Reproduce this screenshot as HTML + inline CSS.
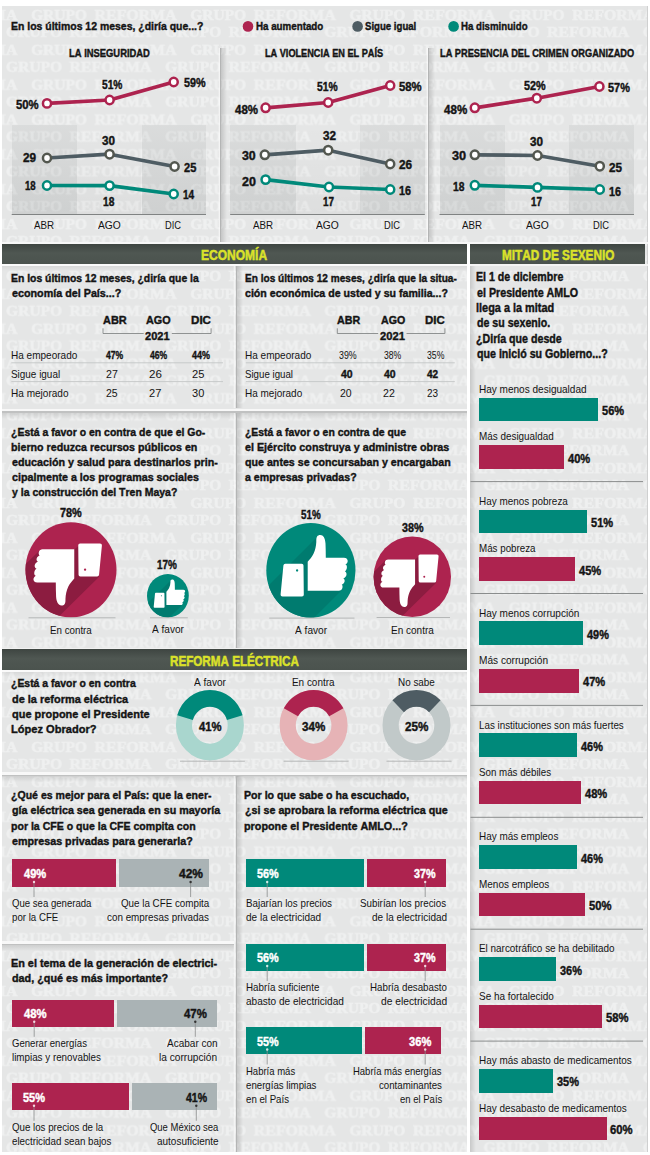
<!DOCTYPE html>
<html lang="es"><head><meta charset="utf-8"><title>Encuesta</title>
<style>
html,body{margin:0;padding:0;background:#fff;}
body{width:650px;height:1155px;position:relative;overflow:hidden;font-family:"Liberation Sans",sans-serif;}
.b{position:absolute;display:block;}
.t{position:absolute;display:block;white-space:nowrap;line-height:1;transform-origin:0 0;font-kerning:none;letter-spacing:0;}
.k{font-weight:700;-webkit-text-stroke:0.4px currentColor;}
</style></head><body>
<div class="b" style="left:1.50px;top:6.00px;width:646.50px;height:1146.00px;background:#e5e6e6;"></div>
<svg class="b" style="left:0;top:0" width="650" height="1155" viewBox="0 0 650 1155"><defs><filter id="bl" x="-5%" y="-20%" width="110%" height="140%"><feGaussianBlur stdDeviation="0.45"/></filter><pattern id="wm" x="0" y="6" width="159.2" height="34.86" patternUnits="userSpaceOnUse"><g fill="#eff0f0" stroke="#eff0f0" stroke-width="0.45" font-family="Liberation Serif, serif" font-weight="700" font-size="14px" filter="url(#bl)"><text x="31.0" y="13.50" textLength="56" lengthAdjust="spacingAndGlyphs">GRUPO</text><text x="94.5" y="13.50" textLength="82" lengthAdjust="spacingAndGlyphs">REFORMA</text><text x="-128.2" y="13.50" textLength="56" lengthAdjust="spacingAndGlyphs">GRUPO</text><text x="-64.7" y="13.50" textLength="82" lengthAdjust="spacingAndGlyphs">REFORMA</text><text x="6.0" y="30.93" textLength="56" lengthAdjust="spacingAndGlyphs">GRUPO</text><text x="69.5" y="30.93" textLength="82" lengthAdjust="spacingAndGlyphs">REFORMA</text><text x="165.2" y="30.93" textLength="56" lengthAdjust="spacingAndGlyphs">GRUPO</text><text x="228.7" y="30.93" textLength="82" lengthAdjust="spacingAndGlyphs">REFORMA</text><text x="-153.2" y="30.93" textLength="56" lengthAdjust="spacingAndGlyphs">GRUPO</text><text x="-89.7" y="30.93" textLength="82" lengthAdjust="spacingAndGlyphs">REFORMA</text></g></pattern></defs><rect x="0" y="6" width="650" height="1146" fill="url(#wm)"/></svg>
<div class="b" style="left:11.70px;top:125.00px;width:65.10px;height:89.60px;background:linear-gradient(rgba(20,30,30,.05),rgba(20,30,30,.11));"></div>
<div class="b" style="left:76.80px;top:125.00px;width:64.70px;height:89.60px;background:linear-gradient(rgba(0,0,0,0),rgba(0,0,0,.035));"></div>
<div class="b" style="left:141.50px;top:125.00px;width:64.50px;height:89.60px;background:linear-gradient(rgba(20,30,30,.05),rgba(20,30,30,.11));"></div>
<div class="b" style="left:230.20px;top:125.00px;width:65.50px;height:89.60px;background:linear-gradient(rgba(20,30,30,.05),rgba(20,30,30,.11));"></div>
<div class="b" style="left:295.70px;top:125.00px;width:64.30px;height:89.60px;background:linear-gradient(rgba(0,0,0,0),rgba(0,0,0,.035));"></div>
<div class="b" style="left:360.00px;top:125.00px;width:64.80px;height:89.60px;background:linear-gradient(rgba(20,30,30,.05),rgba(20,30,30,.11));"></div>
<div class="b" style="left:439.50px;top:125.00px;width:65.50px;height:89.60px;background:linear-gradient(rgba(20,30,30,.05),rgba(20,30,30,.11));"></div>
<div class="b" style="left:505.00px;top:125.00px;width:64.30px;height:89.60px;background:linear-gradient(rgba(0,0,0,0),rgba(0,0,0,.035));"></div>
<div class="b" style="left:569.30px;top:125.00px;width:64.70px;height:89.60px;background:linear-gradient(rgba(20,30,30,.05),rgba(20,30,30,.11));"></div>
<div class="b" style="left:0.00px;top:0.00px;width:650.00px;height:6.00px;background:#fff;"></div>
<div class="b" style="left:0.00px;top:1152.00px;width:650.00px;height:3.00px;background:#fff;"></div>
<div class="b" style="left:0.00px;top:0.00px;width:1.50px;height:1155.00px;background:#fff;"></div>
<div class="b" style="left:648.00px;top:0.00px;width:2.00px;height:1155.00px;background:#fff;"></div>
<div class="b" style="left:647.00px;top:6.00px;width:1.00px;height:1146.00px;background:#cfd0d0;"></div>
<div class="b" style="left:466.70px;top:242.00px;width:3.40px;height:910.00px;background:#fff;"></div>
<div class="b" style="left:470.10px;top:266.00px;width:6.00px;height:886.00px;background:linear-gradient(90deg,rgba(0,0,0,.13),rgba(0,0,0,0));"></div>
<div class="b" style="left:217.80px;top:48.00px;width:2.20px;height:194.00px;background:linear-gradient(90deg,rgba(255,255,255,0),rgba(255,255,255,.75));"></div>
<div class="b" style="left:220.00px;top:48.00px;width:1.20px;height:194.00px;background:#b4b5b5;"></div>
<div class="b" style="left:221.20px;top:48.00px;width:6.00px;height:194.00px;background:linear-gradient(90deg,rgba(0,0,0,.14),rgba(0,0,0,0));"></div>
<div class="b" style="left:425.80px;top:48.00px;width:2.20px;height:194.00px;background:linear-gradient(90deg,rgba(255,255,255,0),rgba(255,255,255,.75));"></div>
<div class="b" style="left:428.00px;top:48.00px;width:1.20px;height:194.00px;background:#b4b5b5;"></div>
<div class="b" style="left:429.20px;top:48.00px;width:6.00px;height:194.00px;background:linear-gradient(90deg,rgba(0,0,0,.14),rgba(0,0,0,0));"></div>
<div class="b" style="left:1.50px;top:242.00px;width:646.50px;height:2.00px;background:#f7f7f7;"></div>
<div class="b" style="left:1.50px;top:244.00px;width:465.20px;height:19.80px;background:linear-gradient(#3e4541,#4f5752 45%,#4b534e);"></div>
<div class="b" style="left:470.10px;top:244.00px;width:174.90px;height:19.80px;background:linear-gradient(#3e4541,#4f5752 45%,#4b534e);"></div>
<div class="b" style="left:1.50px;top:263.80px;width:465.20px;height:2.40px;background:#fafafa;"></div>
<div class="b" style="left:470.10px;top:263.80px;width:177.90px;height:2.40px;background:#f4f4f4;"></div>
<div class="b" style="left:1.50px;top:266.20px;width:465.20px;height:5.00px;background:linear-gradient(rgba(0,0,0,.06),rgba(0,0,0,0));"></div>
<div class="b" style="left:233.30px;top:266.20px;width:2.20px;height:142.30px;background:linear-gradient(90deg,rgba(255,255,255,0),rgba(255,255,255,.75));"></div>
<div class="b" style="left:235.50px;top:266.20px;width:1.20px;height:142.30px;background:#b4b5b5;"></div>
<div class="b" style="left:236.70px;top:266.20px;width:6.00px;height:142.30px;background:linear-gradient(90deg,rgba(0,0,0,.14),rgba(0,0,0,0));"></div>
<div class="b" style="left:1.50px;top:408.50px;width:465.20px;height:2.90px;background:#f8f8f8;"></div>
<div class="b" style="left:1.50px;top:411.40px;width:465.20px;height:1.20px;background:#c0c1c1;"></div>
<div class="b" style="left:1.50px;top:412.60px;width:465.20px;height:6.00px;background:linear-gradient(rgba(0,0,0,.10),rgba(0,0,0,0));"></div>
<div class="b" style="left:233.30px;top:412.50px;width:2.20px;height:235.50px;background:linear-gradient(90deg,rgba(255,255,255,0),rgba(255,255,255,.75));"></div>
<div class="b" style="left:235.50px;top:412.50px;width:1.20px;height:235.50px;background:#b4b5b5;"></div>
<div class="b" style="left:236.70px;top:412.50px;width:6.00px;height:235.50px;background:linear-gradient(90deg,rgba(0,0,0,.14),rgba(0,0,0,0));"></div>
<div class="b" style="left:1.50px;top:647.80px;width:465.20px;height:1.60px;background:#f1f1f1;"></div>
<div class="b" style="left:1.50px;top:649.40px;width:465.20px;height:20.20px;background:linear-gradient(#3e4541,#4f5752 45%,#4b534e);"></div>
<div class="b" style="left:1.50px;top:669.60px;width:465.20px;height:2.60px;background:#fafafa;"></div>
<div class="b" style="left:1.50px;top:672.20px;width:465.20px;height:5.00px;background:linear-gradient(rgba(0,0,0,.06),rgba(0,0,0,0));"></div>
<div class="b" style="left:1.50px;top:772.00px;width:465.20px;height:2.90px;background:#f8f8f8;"></div>
<div class="b" style="left:1.50px;top:774.90px;width:465.20px;height:1.20px;background:#c0c1c1;"></div>
<div class="b" style="left:1.50px;top:776.10px;width:465.20px;height:6.00px;background:linear-gradient(rgba(0,0,0,.10),rgba(0,0,0,0));"></div>
<div class="b" style="left:233.30px;top:776.00px;width:2.20px;height:376.00px;background:linear-gradient(90deg,rgba(255,255,255,0),rgba(255,255,255,.75));"></div>
<div class="b" style="left:235.50px;top:776.00px;width:1.20px;height:376.00px;background:#b4b5b5;"></div>
<div class="b" style="left:236.70px;top:776.00px;width:6.00px;height:376.00px;background:linear-gradient(90deg,rgba(0,0,0,.14),rgba(0,0,0,0));"></div>
<div class="b" style="left:1.50px;top:940.70px;width:232.00px;height:2.90px;background:#f8f8f8;"></div>
<div class="b" style="left:1.50px;top:943.60px;width:232.00px;height:1.20px;background:#c0c1c1;"></div>
<div class="b" style="left:1.50px;top:944.80px;width:232.00px;height:6.00px;background:linear-gradient(rgba(0,0,0,.10),rgba(0,0,0,0));"></div>
<span class="t k" style="left:201.16px;top:249px;font-size:13.80px;color:#dbe22a;transform:scaleX(0.8706);-webkit-text-stroke:0.5px currentColor;">ECONOMÍA</span>
<span class="t k" style="left:501.98px;top:249px;font-size:13.80px;color:#dbe22a;transform:scaleX(0.8522);-webkit-text-stroke:0.5px currentColor;">MITAD DE SEXENIO</span>
<span class="t k" style="left:169.78px;top:655px;font-size:13.80px;color:#dbe22a;transform:scaleX(0.8446);-webkit-text-stroke:0.5px currentColor;">REFORMA ELÉCTRICA</span>
<span class="t k" style="left:11.27px;top:21px;font-size:11.80px;color:#141414;transform-origin:0 9px;transform:scale(0.8864,0.990);">En los últimos 12 meses, ¿diría que...?</span>
<span class="t k" style="left:256.12px;top:21px;font-size:11.30px;color:#141414;transform-origin:0 9px;transform:scale(0.8641,0.990);">Ha aumentado</span>
<span class="t k" style="left:364.71px;top:21px;font-size:11.30px;color:#141414;transform-origin:0 9px;transform:scale(0.8512,0.990);">Sigue igual</span>
<span class="t k" style="left:461.32px;top:21px;font-size:11.30px;color:#141414;transform-origin:0 9px;transform:scale(0.8549,0.990);">Ha disminuido</span>
<span class="t k" style="left:68.84px;top:48px;font-size:10.80px;color:#141414;transform-origin:0 9px;transform:scale(0.8701,0.990);">LA INSEGURIDAD</span>
<span class="t k" style="left:264.76px;top:48px;font-size:10.80px;color:#141414;transform-origin:0 9px;transform:scale(0.8482,0.990);">LA VIOLENCIA EN EL PAÍS</span>
<span class="t k" style="left:440.35px;top:48px;font-size:10.80px;color:#141414;transform-origin:0 9px;transform:scale(0.8540,0.990);">LA PRESENCIA DEL CRIMEN ORGANIZADO</span>
<span class="t k" style="left:15.66px;top:99px;font-size:12.00px;color:#141414;transform-origin:0 10px;transform:scale(0.9450,0.990);">50%</span>
<span class="t k" style="left:102.09px;top:79px;font-size:12.00px;color:#141414;transform-origin:0 10px;transform:scale(0.8505,0.990);">51%</span>
<span class="t k" style="left:183.68px;top:77px;font-size:12.00px;color:#141414;transform-origin:0 10px;transform:scale(0.9021,0.990);">59%</span>
<span class="t k" style="left:102.17px;top:135px;font-size:12.00px;color:#141414;transform-origin:0 10px;transform:scale(0.9748,0.990);">30</span>
<span class="t k" style="left:22.65px;top:152px;font-size:12.00px;color:#141414;transform-origin:0 10px;transform:scale(0.9841,0.990);">29</span>
<span class="t k" style="left:183.67px;top:162px;font-size:12.00px;color:#141414;transform-origin:0 10px;transform:scale(0.9198,0.990);">25</span>
<span class="t k" style="left:24.92px;top:180px;font-size:12.00px;color:#141414;transform-origin:0 10px;transform:scale(0.8010,0.990);">18</span>
<span class="t k" style="left:102.79px;top:196px;font-size:12.00px;color:#141414;transform-origin:0 10px;transform:scale(0.8495,0.990);">18</span>
<span class="t k" style="left:183.39px;top:189px;font-size:12.00px;color:#141414;transform-origin:0 10px;transform:scale(0.8413,0.990);">14</span>
<span class="t" style="left:34.25px;top:220px;font-size:11.30px;color:#141414;transform:scaleX(0.8628);">ABR</span>
<span class="t" style="left:97.85px;top:220px;font-size:11.30px;color:#141414;transform:scaleX(0.9094);">AGO</span>
<span class="t" style="left:165.41px;top:220px;font-size:11.30px;color:#141414;transform:scaleX(0.8241);">DIC</span>
<span class="t k" style="left:234.89px;top:104px;font-size:12.00px;color:#141414;transform-origin:0 10px;transform:scale(0.9566,0.990);">48%</span>
<span class="t k" style="left:317.19px;top:81px;font-size:12.00px;color:#141414;transform-origin:0 10px;transform:scale(0.8591,0.990);">51%</span>
<span class="t k" style="left:398.66px;top:81px;font-size:12.00px;color:#141414;transform-origin:0 10px;transform:scale(0.9450,0.990);">58%</span>
<span class="t k" style="left:322.57px;top:130px;font-size:12.00px;color:#141414;transform-origin:0 10px;transform:scale(0.9748,0.990);">32</span>
<span class="t k" style="left:242.35px;top:150px;font-size:12.00px;color:#141414;transform-origin:0 10px;transform:scale(1.0299,0.990);">30</span>
<span class="t k" style="left:398.65px;top:159px;font-size:12.00px;color:#141414;transform-origin:0 10px;transform:scale(0.9841,0.990);">26</span>
<span class="t k" style="left:242.23px;top:176px;font-size:12.00px;color:#141414;transform-origin:0 10px;transform:scale(1.0397,0.990);">20</span>
<span class="t k" style="left:323.41px;top:196px;font-size:12.00px;color:#141414;transform-origin:0 10px;transform:scale(0.8251,0.990);">17</span>
<span class="t k" style="left:399.05px;top:185px;font-size:12.00px;color:#141414;transform-origin:0 10px;transform:scale(0.8987,0.990);">16</span>
<span class="t" style="left:253.05px;top:220px;font-size:11.30px;color:#141414;transform:scaleX(0.8628);">ABR</span>
<span class="t" style="left:316.35px;top:220px;font-size:11.30px;color:#141414;transform:scaleX(0.9094);">AGO</span>
<span class="t" style="left:383.81px;top:220px;font-size:11.30px;color:#141414;transform:scaleX(0.8241);">DIC</span>
<span class="t k" style="left:443.88px;top:104px;font-size:12.00px;color:#141414;transform-origin:0 10px;transform:scale(0.9651,0.990);">48%</span>
<span class="t k" style="left:524.18px;top:80px;font-size:12.00px;color:#141414;transform-origin:0 10px;transform:scale(0.9021,0.990);">52%</span>
<span class="t k" style="left:607.97px;top:82px;font-size:12.00px;color:#141414;transform-origin:0 10px;transform:scale(0.9107,0.990);">57%</span>
<span class="t k" style="left:530.37px;top:136px;font-size:12.00px;color:#141414;transform-origin:0 10px;transform:scale(0.9748,0.990);">30</span>
<span class="t k" style="left:451.55px;top:150px;font-size:12.00px;color:#141414;transform-origin:0 10px;transform:scale(1.0613,0.990);">30</span>
<span class="t k" style="left:608.95px;top:162px;font-size:12.00px;color:#141414;transform-origin:0 10px;transform:scale(0.9748,0.990);">25</span>
<span class="t k" style="left:452.98px;top:181px;font-size:12.00px;color:#141414;transform-origin:0 10px;transform:scale(0.8576,0.990);">18</span>
<span class="t k" style="left:531.21px;top:196px;font-size:12.00px;color:#141414;transform-origin:0 10px;transform:scale(0.8251,0.990);">17</span>
<span class="t k" style="left:609.35px;top:186px;font-size:12.00px;color:#141414;transform-origin:0 10px;transform:scale(0.8987,0.990);">16</span>
<span class="t" style="left:462.25px;top:220px;font-size:11.30px;color:#141414;transform:scaleX(0.8628);">ABR</span>
<span class="t" style="left:525.65px;top:220px;font-size:11.30px;color:#141414;transform:scaleX(0.9094);">AGO</span>
<span class="t" style="left:593.00px;top:220px;font-size:11.30px;color:#141414;transform:scaleX(0.8241);">DIC</span>
<span class="t k" style="left:11.27px;top:273px;font-size:11.50px;color:#141414;transform-origin:0 9px;transform:scale(0.9039,0.990);">En los últimos 12 meses, ¿diría que la</span>
<span class="t k" style="left:11.57px;top:288px;font-size:11.50px;color:#141414;transform-origin:0 9px;transform:scale(0.9352,0.990);">economía del País...?</span>
<span class="t k" style="left:244.89px;top:273px;font-size:11.50px;color:#141414;transform-origin:0 9px;transform:scale(0.8766,0.990);">En los últimos 12 meses, ¿diría que la situa-</span>
<span class="t k" style="left:245.18px;top:288px;font-size:11.50px;color:#141414;transform-origin:0 9px;transform:scale(0.9231,0.990);">ción económica de usted y su familia...?</span>
<span class="t k" style="left:102.97px;top:315px;font-size:11.80px;color:#141414;transform-origin:0 9px;transform:scale(0.9278,0.990);">ABR</span>
<span class="t k" style="left:146.08px;top:315px;font-size:11.80px;color:#141414;transform-origin:0 9px;transform:scale(0.9165,0.990);">AGO</span>
<span class="t k" style="left:191.29px;top:315px;font-size:11.80px;color:#141414;transform-origin:0 9px;transform:scale(0.9835,0.990);">DIC</span>
<span class="t k" style="left:145.37px;top:331px;font-size:11.80px;color:#141414;transform-origin:0 9px;transform:scale(0.9412,0.990);">2021</span>
<span class="t" style="left:10.50px;top:350px;font-size:11.20px;color:#141414;transform:scaleX(0.8956);">Ha empeorado</span>
<span class="t k" style="left:106.21px;top:350px;font-size:11.30px;color:#141414;transform-origin:0 9px;transform:scale(0.7585,0.990);">47%</span>
<span class="t k" style="left:149.61px;top:350px;font-size:11.30px;color:#141414;transform-origin:0 9px;transform:scale(0.7585,0.990);">46%</span>
<span class="t k" style="left:192.01px;top:350px;font-size:11.30px;color:#141414;transform-origin:0 9px;transform:scale(0.7901,0.990);">44%</span>
<span class="t" style="left:10.80px;top:369px;font-size:11.20px;color:#141414;transform:scaleX(0.8873);">Sigue igual</span>
<span class="t" style="left:105.77px;top:369px;font-size:11.20px;color:#141414;transform:scaleX(0.9454);">27</span>
<span class="t" style="left:149.12px;top:369px;font-size:11.20px;color:#141414;transform:scaleX(1.0329);">26</span>
<span class="t" style="left:191.54px;top:369px;font-size:11.20px;color:#141414;transform:scaleX(0.9969);">25</span>
<span class="t" style="left:10.50px;top:388px;font-size:11.20px;color:#141414;transform:scaleX(0.8976);">Ha mejorado</span>
<span class="t" style="left:105.78px;top:388px;font-size:11.20px;color:#141414;transform:scaleX(0.9362);">25</span>
<span class="t" style="left:149.15px;top:388px;font-size:11.20px;color:#141414;transform:scaleX(0.9891);">27</span>
<span class="t" style="left:191.66px;top:388px;font-size:11.20px;color:#141414;transform:scaleX(0.9873);">30</span>
<span class="t k" style="left:337.28px;top:315px;font-size:11.80px;color:#141414;transform-origin:0 9px;transform:scale(0.9077,0.990);">ABR</span>
<span class="t k" style="left:380.68px;top:315px;font-size:11.80px;color:#141414;transform-origin:0 9px;transform:scale(0.9011,0.990);">AGO</span>
<span class="t k" style="left:425.30px;top:315px;font-size:11.80px;color:#141414;transform-origin:0 9px;transform:scale(0.9730,0.990);">DIC</span>
<span class="t k" style="left:379.86px;top:331px;font-size:11.80px;color:#141414;transform-origin:0 9px;transform:scale(0.9490,0.990);">2021</span>
<span class="t" style="left:245.00px;top:350px;font-size:11.20px;color:#141414;transform:scaleX(0.8956);">Ha empeorado</span>
<span class="t" style="left:339.45px;top:350px;font-size:11.20px;color:#141414;transform:scaleX(0.7906);">39%</span>
<span class="t" style="left:383.65px;top:350px;font-size:11.20px;color:#141414;transform:scaleX(0.7719);">38%</span>
<span class="t" style="left:426.95px;top:350px;font-size:11.20px;color:#141414;transform:scaleX(0.7766);">35%</span>
<span class="t" style="left:245.31px;top:369px;font-size:11.20px;color:#141414;transform:scaleX(0.8670);">Sigue igual</span>
<span class="t k" style="left:340.50px;top:369px;font-size:11.30px;color:#141414;transform-origin:0 9px;transform:scale(0.9263,0.990);">40</span>
<span class="t k" style="left:383.90px;top:369px;font-size:11.30px;color:#141414;transform-origin:0 9px;transform:scale(0.9263,0.990);">40</span>
<span class="t k" style="left:427.20px;top:369px;font-size:11.30px;color:#141414;transform-origin:0 9px;transform:scale(0.8850,0.990);">42</span>
<span class="t" style="left:245.00px;top:388px;font-size:11.20px;color:#141414;transform:scaleX(0.8929);">Ha mejorado</span>
<span class="t" style="left:340.08px;top:388px;font-size:11.20px;color:#141414;transform:scaleX(0.9362);">20</span>
<span class="t" style="left:383.47px;top:388px;font-size:11.20px;color:#141414;transform:scaleX(0.9454);">22</span>
<span class="t" style="left:426.80px;top:388px;font-size:11.20px;color:#141414;transform:scaleX(0.8929);">23</span>
<span class="t k" style="left:11.48px;top:427px;font-size:11.50px;color:#141414;transform-origin:0 9px;transform:scale(0.9105,0.990);">¿Está a favor o en contra de que el Go-</span>
<span class="t k" style="left:11.25px;top:442px;font-size:11.50px;color:#141414;transform-origin:0 9px;transform:scale(0.9288,0.990);">bierno reduzca recursos públicos en</span>
<span class="t k" style="left:11.57px;top:457px;font-size:11.50px;color:#141414;transform-origin:0 9px;transform:scale(0.9338,0.990);">educación y salud para destinarlos prin-</span>
<span class="t k" style="left:11.57px;top:472px;font-size:11.50px;color:#141414;transform-origin:0 9px;transform:scale(0.9311,0.990);">cipalmente a los programas sociales</span>
<span class="t k" style="left:11.90px;top:487px;font-size:11.50px;color:#141414;transform-origin:0 9px;transform:scale(0.9107,0.990);">y la construcción del Tren Maya?</span>
<span class="t k" style="left:244.68px;top:427px;font-size:11.50px;color:#141414;transform-origin:0 9px;transform:scale(0.9064,0.990);">¿Está a favor o en contra de que</span>
<span class="t k" style="left:244.77px;top:442px;font-size:11.50px;color:#141414;transform-origin:0 9px;transform:scale(0.9348,0.990);">el Ejército construya y administre obras</span>
<span class="t k" style="left:244.77px;top:457px;font-size:11.50px;color:#141414;transform-origin:0 9px;transform:scale(0.9276,0.990);">que antes se concursaban y encargaban</span>
<span class="t k" style="left:244.88px;top:472px;font-size:11.50px;color:#141414;transform-origin:0 9px;transform:scale(0.9239,0.990);">a empresas privadas?</span>
<span class="t k" style="left:59.56px;top:507px;font-size:12.00px;color:#141414;transform-origin:0 10px;transform:scale(0.9067,0.990);">78%</span>
<span class="t k" style="left:157.40px;top:559px;font-size:12.00px;color:#141414;transform-origin:0 10px;transform:scale(0.8290,0.990);">17%</span>
<span class="t k" style="left:301.11px;top:509px;font-size:12.00px;color:#141414;transform-origin:0 10px;transform:scale(0.8162,0.990);">51%</span>
<span class="t k" style="left:401.58px;top:522px;font-size:12.00px;color:#141414;transform-origin:0 10px;transform:scale(0.8974,0.990);">38%</span>
<span class="t" style="left:50.22px;top:625px;font-size:11.30px;color:#141414;transform:scaleX(0.8639);">En contra</span>
<span class="t" style="left:152.20px;top:624px;font-size:11.30px;color:#141414;transform:scaleX(0.8935);">A favor</span>
<span class="t" style="left:295.00px;top:625px;font-size:11.30px;color:#141414;transform:scaleX(0.8964);">A favor</span>
<span class="t" style="left:390.70px;top:625px;font-size:11.30px;color:#141414;transform:scaleX(0.8850);">En contra</span>
<span class="t k" style="left:11.48px;top:678px;font-size:11.50px;color:#141414;transform-origin:0 9px;transform:scale(0.9076,0.990);">¿Está a favor o en contra</span>
<span class="t k" style="left:11.56px;top:694px;font-size:11.50px;color:#141414;transform-origin:0 9px;transform:scale(0.9518,0.990);">de la reforma eléctrica</span>
<span class="t k" style="left:11.56px;top:709px;font-size:11.50px;color:#141414;transform-origin:0 9px;transform:scale(0.9532,0.990);">que propone el Presidente</span>
<span class="t k" style="left:11.23px;top:724px;font-size:11.50px;color:#141414;transform-origin:0 9px;transform:scale(0.9624,0.990);">López Obrador?</span>
<span class="t" style="left:193.90px;top:677px;font-size:11.30px;color:#141414;transform:scaleX(0.8935);">A favor</span>
<span class="t k" style="left:198.79px;top:721px;font-size:12.00px;color:#141414;transform-origin:0 10px;transform:scale(0.9396,0.990);">41%</span>
<span class="t" style="left:291.51px;top:677px;font-size:11.30px;color:#141414;transform:scaleX(0.8786);">En contra</span>
<span class="t k" style="left:301.57px;top:721px;font-size:12.00px;color:#141414;transform-origin:0 10px;transform:scale(0.9701,0.990);">34%</span>
<span class="t" style="left:398.11px;top:677px;font-size:11.30px;color:#141414;transform:scaleX(0.8751);">No sabe</span>
<span class="t k" style="left:404.65px;top:721px;font-size:12.00px;color:#141414;transform-origin:0 10px;transform:scale(0.9751,0.990);">25%</span>
<span class="t k" style="left:11.47px;top:790px;font-size:11.50px;color:#141414;transform-origin:0 9px;transform:scale(0.9174,0.990);">¿Qué es mejor para el País: que la ener-</span>
<span class="t k" style="left:11.57px;top:805px;font-size:11.50px;color:#141414;transform-origin:0 9px;transform:scale(0.9305,0.990);">gía eléctrica sea generada en su mayoría</span>
<span class="t k" style="left:11.26px;top:821px;font-size:11.50px;color:#141414;transform-origin:0 9px;transform:scale(0.9171,0.990);">por la CFE o que la CFE compita con</span>
<span class="t k" style="left:11.57px;top:836px;font-size:11.50px;color:#141414;transform-origin:0 9px;transform:scale(0.9329,0.990);">empresas privadas para generarla?</span>
<div class="b" style="left:11.80px;top:859.30px;width:104.60px;height:27.40px;background:#ad234f;"></div>
<div class="b" style="left:119.10px;top:859.30px;width:89.90px;height:27.40px;background:#aab3b5;"></div>
<span class="t k" style="left:23.69px;top:868px;font-size:12.00px;color:#fff;transform-origin:0 10px;transform:scale(0.9269,0.990);">49%</span>
<span class="t k" style="left:178.88px;top:868px;font-size:12.00px;color:#141414;transform-origin:0 10px;transform:scale(0.9991,0.990);">42%</span>
<span class="t" style="left:12.12px;top:898px;font-size:11.20px;color:#141414;transform:scaleX(0.8571);">Que sea generada</span>
<span class="t" style="left:12.02px;top:912px;font-size:11.20px;color:#141414;transform:scaleX(0.8661);">por la CFE</span>
<span class="t" style="left:120.61px;top:898px;font-size:11.20px;color:#141414;transform:scaleX(0.8759);">Que la CFE compita</span>
<span class="t" style="left:107.31px;top:912px;font-size:11.20px;color:#141414;transform:scaleX(0.8815);">con empresas privadas</span>
<span class="t k" style="left:11.24px;top:958px;font-size:11.50px;color:#141414;transform-origin:0 9px;transform:scale(0.9432,0.990);">En el tema de la generación de electrici-</span>
<span class="t k" style="left:11.57px;top:973px;font-size:11.50px;color:#141414;transform-origin:0 9px;transform:scale(0.9393,0.990);">dad, ¿qué es más importante?</span>
<div class="b" style="left:11.80px;top:999.60px;width:102.10px;height:27.60px;background:#ad234f;"></div>
<div class="b" style="left:116.50px;top:999.60px;width:100.50px;height:27.60px;background:#aab3b5;"></div>
<span class="t k" style="left:23.69px;top:1008px;font-size:12.00px;color:#fff;transform-origin:0 10px;transform:scale(0.9439,0.990);">48%</span>
<span class="t k" style="left:184.29px;top:1008px;font-size:12.00px;color:#141414;transform-origin:0 10px;transform:scale(0.9524,0.990);">47%</span>
<span class="t" style="left:12.12px;top:1038px;font-size:11.20px;color:#141414;transform:scaleX(0.8548);">Generar energías</span>
<span class="t" style="left:11.91px;top:1052px;font-size:11.20px;color:#141414;transform:scaleX(0.8769);">limpias y renovables</span>
<span class="t" style="left:167.00px;top:1038px;font-size:11.20px;color:#141414;transform:scaleX(0.8946);">Acabar con</span>
<span class="t" style="left:159.49px;top:1052px;font-size:11.20px;color:#141414;transform:scaleX(0.9072);">la corrupción</span>
<div class="b" style="left:11.80px;top:1083.10px;width:117.60px;height:27.40px;background:#ad234f;"></div>
<div class="b" style="left:132.00px;top:1083.10px;width:85.00px;height:27.40px;background:#aab3b5;"></div>
<span class="t k" style="left:22.97px;top:1092px;font-size:12.00px;color:#fff;transform-origin:0 10px;transform:scale(0.9149,0.990);">55%</span>
<span class="t k" style="left:186.09px;top:1092px;font-size:12.00px;color:#141414;transform-origin:0 10px;transform:scale(0.8759,0.990);">41%</span>
<span class="t" style="left:12.11px;top:1122px;font-size:11.20px;color:#141414;transform:scaleX(0.8680);">Que los precios de la</span>
<span class="t" style="left:12.21px;top:1136px;font-size:11.20px;color:#141414;transform:scaleX(0.8734);">electricidad sean bajos</span>
<span class="t" style="left:149.53px;top:1122px;font-size:11.20px;color:#141414;transform:scaleX(0.8456);">Que México sea</span>
<span class="t" style="left:156.90px;top:1136px;font-size:11.20px;color:#141414;transform:scaleX(0.8914);">autosuficiente</span>
<span class="t k" style="left:244.46px;top:790px;font-size:11.50px;color:#141414;transform-origin:0 9px;transform:scale(0.9237,0.990);">Por lo que sabe o ha escuchado,</span>
<span class="t k" style="left:244.66px;top:805px;font-size:11.50px;color:#141414;transform-origin:0 9px;transform:scale(0.9329,0.990);">¿si se aprobara la reforma eléctrica que</span>
<span class="t k" style="left:244.44px;top:821px;font-size:11.50px;color:#141414;transform-origin:0 9px;transform:scale(0.9391,0.990);">propone el Presidente AMLO...?</span>
<div class="b" style="left:245.60px;top:859.30px;width:118.90px;height:27.50px;background:#00897a;"></div>
<div class="b" style="left:367.00px;top:859.30px;width:79.20px;height:27.50px;background:#ad234f;"></div>
<span class="t k" style="left:256.78px;top:868px;font-size:12.00px;color:#fff;transform-origin:0 10px;transform:scale(0.9021,0.990);">56%</span>
<span class="t k" style="left:414.18px;top:868px;font-size:12.00px;color:#fff;transform-origin:0 10px;transform:scale(0.8974,0.990);">37%</span>
<span class="t" style="left:245.52px;top:898px;font-size:11.20px;color:#141414;transform:scaleX(0.8753);">Bajarían los precios</span>
<span class="t" style="left:245.90px;top:912px;font-size:11.20px;color:#141414;transform:scaleX(0.8941);">de la electricidad</span>
<span class="t" style="left:360.41px;top:898px;font-size:11.20px;color:#141414;transform:scaleX(0.8764);">Subirían los precios</span>
<span class="t" style="left:371.70px;top:912px;font-size:11.20px;color:#141414;transform:scaleX(0.8941);">de la electricidad</span>
<div class="b" style="left:245.60px;top:943.50px;width:118.90px;height:27.20px;background:#00897a;"></div>
<div class="b" style="left:367.00px;top:943.50px;width:79.20px;height:27.20px;background:#ad234f;"></div>
<span class="t k" style="left:256.78px;top:952px;font-size:12.00px;color:#fff;transform-origin:0 10px;transform:scale(0.9021,0.990);">56%</span>
<span class="t k" style="left:414.18px;top:952px;font-size:12.00px;color:#fff;transform-origin:0 10px;transform:scale(0.8974,0.990);">37%</span>
<span class="t" style="left:245.52px;top:982px;font-size:11.20px;color:#141414;transform:scaleX(0.8747);">Habría suficiente</span>
<span class="t" style="left:245.90px;top:996px;font-size:11.20px;color:#141414;transform:scaleX(0.8994);">abasto de electricidad</span>
<span class="t" style="left:370.22px;top:982px;font-size:11.20px;color:#141414;transform:scaleX(0.8711);">Habría desabasto</span>
<span class="t" style="left:381.39px;top:996px;font-size:11.20px;color:#141414;transform:scaleX(0.9168);">de electricidad</span>
<div class="b" style="left:245.60px;top:1027.00px;width:116.40px;height:27.20px;background:#00897a;"></div>
<div class="b" style="left:364.60px;top:1027.00px;width:76.90px;height:27.20px;background:#ad234f;"></div>
<span class="t k" style="left:256.78px;top:1036px;font-size:12.00px;color:#fff;transform-origin:0 10px;transform:scale(0.9021,0.990);">55%</span>
<span class="t k" style="left:409.48px;top:1036px;font-size:12.00px;color:#fff;transform-origin:0 10px;transform:scale(0.9274,0.990);">36%</span>
<span class="t" style="left:245.54px;top:1066px;font-size:11.20px;color:#141414;transform:scaleX(0.8504);">Habría más</span>
<span class="t" style="left:245.91px;top:1080px;font-size:11.20px;color:#141414;transform:scaleX(0.8643);">energías limpias</span>
<span class="t" style="left:245.91px;top:1094px;font-size:11.20px;color:#141414;transform:scaleX(0.8643);">en el País</span>
<span class="t" style="left:353.24px;top:1066px;font-size:11.20px;color:#141414;transform:scaleX(0.8473);">Habría más energías</span>
<span class="t" style="left:378.91px;top:1080px;font-size:11.20px;color:#141414;transform:scaleX(0.8650);">contaminantes</span>
<span class="t" style="left:399.52px;top:1094px;font-size:11.20px;color:#141414;transform:scaleX(0.8500);">en el País</span>
<span class="t k" style="left:476.26px;top:271px;font-size:12.00px;color:#141414;transform-origin:0 10px;transform:scale(0.8846,0.990);">El 1 de diciembre</span>
<span class="t k" style="left:476.57px;top:287px;font-size:12.00px;color:#141414;transform-origin:0 10px;transform:scale(0.8914,0.990);">el Presidente AMLO</span>
<span class="t k" style="left:476.24px;top:302px;font-size:12.00px;color:#141414;transform-origin:0 10px;transform:scale(0.9091,0.990);">llega a la mitad</span>
<span class="t k" style="left:476.58px;top:317px;font-size:12.00px;color:#141414;transform-origin:0 10px;transform:scale(0.8850,0.990);">de su sexenio.</span>
<span class="t k" style="left:476.47px;top:333px;font-size:12.00px;color:#141414;transform-origin:0 10px;transform:scale(0.8867,0.990);">¿Diría que desde</span>
<span class="t k" style="left:476.57px;top:348px;font-size:12.00px;color:#141414;transform-origin:0 10px;transform:scale(0.8874,0.990);">que inició su Gobierno...?</span>
<span class="t" style="left:479.00px;top:384px;font-size:11.20px;color:#141414;transform:scaleX(0.8962);">Hay menos desigualdad</span>
<div class="b" style="left:479.20px;top:397.60px;width:118.83px;height:23.60px;background:#00897a;"></div>
<span class="t k" style="left:601.90px;top:405px;font-size:12.00px;color:#141414;transform-origin:0 10px;transform:scale(0.9192,0.990);">56%</span>
<span class="t" style="left:479.01px;top:431px;font-size:11.20px;color:#141414;transform:scaleX(0.8844);">Más desigualdad</span>
<div class="b" style="left:479.20px;top:445.40px;width:84.88px;height:23.40px;background:#ad234f;"></div>
<span class="t k" style="left:568.17px;top:453px;font-size:12.00px;color:#141414;transform-origin:0 10px;transform:scale(0.9269,0.990);">40%</span>
<span class="t" style="left:479.00px;top:496px;font-size:11.20px;color:#141414;transform:scaleX(0.8878);">Hay menos pobreza</span>
<div class="b" style="left:479.20px;top:509.50px;width:108.22px;height:23.60px;background:#00897a;"></div>
<span class="t k" style="left:591.29px;top:517px;font-size:12.00px;color:#141414;transform-origin:0 10px;transform:scale(0.9192,0.990);">51%</span>
<span class="t" style="left:479.02px;top:543px;font-size:11.20px;color:#141414;transform:scaleX(0.8741);">Más pobreza</span>
<div class="b" style="left:479.20px;top:557.30px;width:95.49px;height:23.40px;background:#ad234f;"></div>
<span class="t k" style="left:578.78px;top:565px;font-size:12.00px;color:#141414;transform-origin:0 10px;transform:scale(0.9269,0.990);">45%</span>
<span class="t" style="left:479.00px;top:608px;font-size:11.20px;color:#141414;transform:scaleX(0.8965);">Hay menos corrupción</span>
<div class="b" style="left:479.20px;top:621.40px;width:103.98px;height:23.60px;background:#00897a;"></div>
<span class="t k" style="left:587.27px;top:629px;font-size:12.00px;color:#141414;transform-origin:0 10px;transform:scale(0.9099,0.990);">49%</span>
<span class="t" style="left:478.99px;top:655px;font-size:11.20px;color:#141414;transform:scaleX(0.9035);">Más corrupción</span>
<div class="b" style="left:479.20px;top:669.20px;width:99.73px;height:23.40px;background:#ad234f;"></div>
<span class="t k" style="left:583.02px;top:676px;font-size:12.00px;color:#141414;transform-origin:0 10px;transform:scale(0.9269,0.990);">47%</span>
<span class="t" style="left:479.02px;top:720px;font-size:11.20px;color:#141414;transform:scaleX(0.8752);">Las instituciones son más fuertes</span>
<div class="b" style="left:479.20px;top:733.30px;width:97.61px;height:23.60px;background:#00897a;"></div>
<span class="t k" style="left:580.90px;top:741px;font-size:12.00px;color:#141414;transform-origin:0 10px;transform:scale(0.9099,0.990);">46%</span>
<span class="t" style="left:479.31px;top:767px;font-size:11.20px;color:#141414;transform:scaleX(0.8708);">Son más débiles</span>
<div class="b" style="left:479.20px;top:781.10px;width:101.86px;height:23.40px;background:#ad234f;"></div>
<span class="t k" style="left:585.14px;top:788px;font-size:12.00px;color:#141414;transform-origin:0 10px;transform:scale(0.9269,0.990);">48%</span>
<span class="t" style="left:479.01px;top:831px;font-size:11.20px;color:#141414;transform:scaleX(0.8861);">Hay más empleos</span>
<div class="b" style="left:479.20px;top:845.20px;width:97.61px;height:23.60px;background:#00897a;"></div>
<span class="t k" style="left:580.90px;top:853px;font-size:12.00px;color:#141414;transform-origin:0 10px;transform:scale(0.9099,0.990);">46%</span>
<span class="t" style="left:479.00px;top:879px;font-size:11.20px;color:#141414;transform:scaleX(0.8903);">Menos empleos</span>
<div class="b" style="left:479.20px;top:893.00px;width:106.10px;height:23.40px;background:#ad234f;"></div>
<span class="t k" style="left:589.16px;top:900px;font-size:12.00px;color:#141414;transform-origin:0 10px;transform:scale(0.9364,0.990);">50%</span>
<span class="t" style="left:479.01px;top:943px;font-size:11.20px;color:#141414;transform:scaleX(0.8863);">El narcotráfico se ha debilitado</span>
<div class="b" style="left:479.20px;top:957.10px;width:76.39px;height:23.60px;background:#00897a;"></div>
<span class="t k" style="left:559.57px;top:965px;font-size:12.00px;color:#141414;transform-origin:0 10px;transform:scale(0.9145,0.990);">36%</span>
<span class="t" style="left:479.30px;top:991px;font-size:11.20px;color:#141414;transform:scaleX(0.8905);">Se ha fortalecido</span>
<div class="b" style="left:479.20px;top:1004.90px;width:123.08px;height:23.40px;background:#ad234f;"></div>
<span class="t k" style="left:606.14px;top:1012px;font-size:12.00px;color:#141414;transform-origin:0 10px;transform:scale(0.9364,0.990);">58%</span>
<span class="t" style="left:479.01px;top:1055px;font-size:11.20px;color:#141414;transform:scaleX(0.8864);">Hay más abasto de medicamentos</span>
<div class="b" style="left:479.20px;top:1069.00px;width:74.27px;height:23.60px;background:#00897a;"></div>
<span class="t k" style="left:557.45px;top:1076px;font-size:12.00px;color:#141414;transform-origin:0 10px;transform:scale(0.9145,0.990);">35%</span>
<span class="t" style="left:479.00px;top:1103px;font-size:11.20px;color:#141414;transform:scaleX(0.8904);">Hay desabasto de medicamentos</span>
<div class="b" style="left:479.20px;top:1116.80px;width:127.32px;height:23.40px;background:#ad234f;"></div>
<span class="t k" style="left:610.27px;top:1124px;font-size:12.00px;color:#141414;transform-origin:0 10px;transform:scale(0.9413,0.990);">60%</span>
<svg class="b" style="left:0;top:0;pointer-events:none" width="650" height="1155" viewBox="0 0 650 1155"><ellipse cx="248.0" cy="26.4" rx="5.3" ry="5.45" fill="#ad234f"/><ellipse cx="357.6" cy="26.4" rx="5.3" ry="5.45" fill="#4e5c63"/><ellipse cx="453.6" cy="26.4" rx="5.3" ry="5.45" fill="#00897a"/><line x1="11.7" y1="214.5" x2="206.0" y2="214.5" stroke="#808383" stroke-width="1"/><polyline points="47.0,103.4 109.6,100.0 173.7,82.0" fill="none" stroke="#ad234f" stroke-width="3.7" stroke-linejoin="round"/><ellipse cx="47.0" cy="103.4" rx="4.05" ry="4.2" fill="#fff" stroke="#ad234f" stroke-width="2.5"/><ellipse cx="109.6" cy="100.0" rx="4.05" ry="4.2" fill="#fff" stroke="#ad234f" stroke-width="2.5"/><ellipse cx="173.7" cy="82.0" rx="4.05" ry="4.2" fill="#fff" stroke="#ad234f" stroke-width="2.5"/><polyline points="47.0,158.0 109.6,154.2 174.6,166.5" fill="none" stroke="#4e5c63" stroke-width="3.7" stroke-linejoin="round"/><ellipse cx="47.0" cy="158.0" rx="4.05" ry="4.2" fill="#fff" stroke="#53574f" stroke-width="2.5"/><ellipse cx="109.6" cy="154.2" rx="4.05" ry="4.2" fill="#fff" stroke="#53574f" stroke-width="2.5"/><ellipse cx="174.6" cy="166.5" rx="4.05" ry="4.2" fill="#fff" stroke="#53574f" stroke-width="2.5"/><polyline points="47.0,185.5 109.6,185.6 173.7,194.0" fill="none" stroke="#00897a" stroke-width="3.7" stroke-linejoin="round"/><ellipse cx="47.0" cy="185.5" rx="4.05" ry="4.2" fill="#fff" stroke="#00897a" stroke-width="2.5"/><ellipse cx="109.6" cy="185.6" rx="4.05" ry="4.2" fill="#fff" stroke="#00897a" stroke-width="2.5"/><ellipse cx="173.7" cy="194.0" rx="4.05" ry="4.2" fill="#fff" stroke="#00897a" stroke-width="2.5"/><line x1="230.2" y1="214.5" x2="424.8" y2="214.5" stroke="#808383" stroke-width="1"/><polyline points="265.6,107.8 328.2,102.5 390.2,85.5" fill="none" stroke="#ad234f" stroke-width="3.7" stroke-linejoin="round"/><ellipse cx="265.6" cy="107.8" rx="4.05" ry="4.2" fill="#fff" stroke="#ad234f" stroke-width="2.5"/><ellipse cx="328.2" cy="102.5" rx="4.05" ry="4.2" fill="#fff" stroke="#ad234f" stroke-width="2.5"/><ellipse cx="390.2" cy="85.5" rx="4.05" ry="4.2" fill="#fff" stroke="#ad234f" stroke-width="2.5"/><polyline points="264.8,154.8 328.2,150.2 390.2,164.0" fill="none" stroke="#4e5c63" stroke-width="3.7" stroke-linejoin="round"/><ellipse cx="264.8" cy="154.8" rx="4.05" ry="4.2" fill="#fff" stroke="#53574f" stroke-width="2.5"/><ellipse cx="328.2" cy="150.2" rx="4.05" ry="4.2" fill="#fff" stroke="#53574f" stroke-width="2.5"/><ellipse cx="390.2" cy="164.0" rx="4.05" ry="4.2" fill="#fff" stroke="#53574f" stroke-width="2.5"/><polyline points="265.6,179.6 329.0,187.0 390.2,189.5" fill="none" stroke="#00897a" stroke-width="3.7" stroke-linejoin="round"/><ellipse cx="265.6" cy="179.6" rx="4.05" ry="4.2" fill="#fff" stroke="#00897a" stroke-width="2.5"/><ellipse cx="329.0" cy="187.0" rx="4.05" ry="4.2" fill="#fff" stroke="#00897a" stroke-width="2.5"/><ellipse cx="390.2" cy="189.5" rx="4.05" ry="4.2" fill="#fff" stroke="#00897a" stroke-width="2.5"/><line x1="439.5" y1="214.5" x2="634.0" y2="214.5" stroke="#808383" stroke-width="1"/><polyline points="474.8,107.8 536.8,98.2 599.4,86.5" fill="none" stroke="#ad234f" stroke-width="3.7" stroke-linejoin="round"/><ellipse cx="474.8" cy="107.8" rx="4.05" ry="4.2" fill="#fff" stroke="#ad234f" stroke-width="2.5"/><ellipse cx="536.8" cy="98.2" rx="4.05" ry="4.2" fill="#fff" stroke="#ad234f" stroke-width="2.5"/><ellipse cx="599.4" cy="86.5" rx="4.05" ry="4.2" fill="#fff" stroke="#ad234f" stroke-width="2.5"/><polyline points="474.8,154.8 537.5,155.5 599.8,166.2" fill="none" stroke="#4e5c63" stroke-width="3.7" stroke-linejoin="round"/><ellipse cx="474.8" cy="154.8" rx="4.05" ry="4.2" fill="#fff" stroke="#53574f" stroke-width="2.5"/><ellipse cx="537.5" cy="155.5" rx="4.05" ry="4.2" fill="#fff" stroke="#53574f" stroke-width="2.5"/><ellipse cx="599.8" cy="166.2" rx="4.05" ry="4.2" fill="#fff" stroke="#53574f" stroke-width="2.5"/><polyline points="474.8,185.3 537.5,187.4 599.8,189.5" fill="none" stroke="#00897a" stroke-width="3.7" stroke-linejoin="round"/><ellipse cx="474.8" cy="185.3" rx="4.05" ry="4.2" fill="#fff" stroke="#00897a" stroke-width="2.5"/><ellipse cx="537.5" cy="187.4" rx="4.05" ry="4.2" fill="#fff" stroke="#00897a" stroke-width="2.5"/><ellipse cx="599.8" cy="189.5" rx="4.05" ry="4.2" fill="#fff" stroke="#00897a" stroke-width="2.5"/><path d="M103.0 328.3V333.5H143.7M171.8 333.5H211.1V328.3" fill="none" stroke="#858888" stroke-width="0.9"/><line x1="11.3" y1="362.8" x2="223.0" y2="362.8" stroke="#c4c6c6" stroke-width="0.9"/><line x1="11.3" y1="381.6" x2="223.0" y2="381.6" stroke="#c4c6c6" stroke-width="0.9"/><path d="M337.3 328.3V333.5H378.2M406.5 333.5H444.9V328.3" fill="none" stroke="#858888" stroke-width="0.9"/><line x1="245.8" y1="362.8" x2="454.8" y2="362.8" stroke="#c4c6c6" stroke-width="0.9"/><line x1="245.8" y1="381.6" x2="454.8" y2="381.6" stroke="#c4c6c6" stroke-width="0.9"/><clipPath id="ca"><ellipse cx="71.0" cy="569.8" rx="45.5" ry="47.6"/></clipPath><ellipse cx="71.0" cy="569.8" rx="45.5" ry="47.6" fill="#ad234f"/><g clip-path="url(#ca)"><polygon transform="translate(71.0 569.8) scale(1.0202 1.0063)" points="-29.8,-20.2 3.0,-20.2 8.0,-24.0 27.6,6.9 -92.4,126.9 -149.8,99.8" fill="#8c1c40"/></g><g transform="translate(71.0 569.8) scale(1.0202 1.0063) rotate(180)" fill="#fff"><path d="M-3.2 20.4V-8.6C-1.5 -10.6 1.2 -13.6 2.6 -16.6C4.4 -20.4 5.2 -24.5 5.4 -28.5C5.5 -30.5 5.2 -32.6 6.2 -34C7.4 -35.8 10.2 -36 11.8 -34.6C13.8 -32.8 14.4 -29.6 14.6 -26.8C14.9 -22 14.8 -17.4 14.9 -12.7H33.0C35.6 -12.7 37.0 -11.0 36.8 -9.2C36.6 -7.4 35.4 -6.4 34.4 -5.8C35.6 -5.6 36.2 -4.4 36.0 -2.6C35.8 -0.8 34.8 0.6 33.8 1.1C35.0 1.3 35.8 2.6 35.6 4.4C35.4 6.2 33.8 7.6 32.4 8.1C33.4 8.4 34.0 9.6 33.7 11.0C33.4 12.6 32.0 13.8 30.8 14.2C31.6 14.8 31.9 16.2 31.5 17.6C31.0 19.4 29.6 20.4 28.0 20.4Z"/><path d="M-25.6 -6.6H-9.2Q-7.4 -6.6 -7.4 -4.8L-7.1 24.4Q-7.1 26.2 -8.9 26.2H-28.4Q-30.5 26.2 -30.3 24.2L-27.5 -4.8Q-27.3 -6.6 -25.6 -6.6Z"/><circle cx="-13.8" cy="0.1" r="1.15" fill="#ad234f"/></g><line x1="28.5" y1="617.8" x2="115.5" y2="617.8" stroke="#b5b7b7" stroke-width="1"/><clipPath id="cb"><ellipse cx="167.9" cy="595.7" rx="20.9" ry="21.7"/></clipPath><ellipse cx="167.9" cy="595.7" rx="20.9" ry="21.7" fill="#00897a"/><g clip-path="url(#cb)"><polygon transform="translate(167.9 595.7) scale(0.4686 0.4588)" points="5.9,-33.2 9.3,-35.0 13.5,-31.0 14.9,-12.0 30.0,20.6 -90.0,140.6 -114.1,86.8" fill="#007b6f"/></g><g transform="translate(167.9 595.7) scale(0.4686 0.4588)" fill="#fff"><path d="M-3.2 20.4V-8.6C-1.5 -10.6 1.2 -13.6 2.6 -16.6C4.4 -20.4 5.2 -24.5 5.4 -28.5C5.5 -30.5 5.2 -32.6 6.2 -34C7.4 -35.8 10.2 -36 11.8 -34.6C13.8 -32.8 14.4 -29.6 14.6 -26.8C14.9 -22 14.8 -17.4 14.9 -12.7H33.0C35.6 -12.7 37.0 -11.0 36.8 -9.2C36.6 -7.4 35.4 -6.4 34.4 -5.8C35.6 -5.6 36.2 -4.4 36.0 -2.6C35.8 -0.8 34.8 0.6 33.8 1.1C35.0 1.3 35.8 2.6 35.6 4.4C35.4 6.2 33.8 7.6 32.4 8.1C33.4 8.4 34.0 9.6 33.7 11.0C33.4 12.6 32.0 13.8 30.8 14.2C31.6 14.8 31.9 16.2 31.5 17.6C31.0 19.4 29.6 20.4 28.0 20.4Z"/><path d="M-25.6 -6.6H-9.2Q-7.4 -6.6 -7.4 -4.8L-7.1 24.4Q-7.1 26.2 -8.9 26.2H-28.4Q-30.5 26.2 -30.3 24.2L-27.5 -4.8Q-27.3 -6.6 -25.6 -6.6Z"/><circle cx="-13.8" cy="0.1" r="1.15" fill="#00897a"/></g><line x1="150.0" y1="617.8" x2="187.8" y2="617.8" stroke="#b5b7b7" stroke-width="1"/><clipPath id="cc"><ellipse cx="310.9" cy="570.4" rx="44.6" ry="47.3"/></clipPath><ellipse cx="310.9" cy="570.4" rx="44.6" ry="47.3" fill="#00897a"/><g clip-path="url(#cc)"><polygon transform="translate(310.9 570.4) scale(1.0000 1.0000)" points="5.9,-33.2 9.3,-35.0 13.5,-31.0 14.9,-12.0 30.0,20.6 -90.0,140.6 -114.1,86.8" fill="#007b6f"/></g><g transform="translate(310.9 570.4) scale(1.0000 1.0000)" fill="#fff"><path d="M-3.2 20.4V-8.6C-1.5 -10.6 1.2 -13.6 2.6 -16.6C4.4 -20.4 5.2 -24.5 5.4 -28.5C5.5 -30.5 5.2 -32.6 6.2 -34C7.4 -35.8 10.2 -36 11.8 -34.6C13.8 -32.8 14.4 -29.6 14.6 -26.8C14.9 -22 14.8 -17.4 14.9 -12.7H33.0C35.6 -12.7 37.0 -11.0 36.8 -9.2C36.6 -7.4 35.4 -6.4 34.4 -5.8C35.6 -5.6 36.2 -4.4 36.0 -2.6C35.8 -0.8 34.8 0.6 33.8 1.1C35.0 1.3 35.8 2.6 35.6 4.4C35.4 6.2 33.8 7.6 32.4 8.1C33.4 8.4 34.0 9.6 33.7 11.0C33.4 12.6 32.0 13.8 30.8 14.2C31.6 14.8 31.9 16.2 31.5 17.6C31.0 19.4 29.6 20.4 28.0 20.4Z"/><path d="M-25.6 -6.6H-9.2Q-7.4 -6.6 -7.4 -4.8L-7.1 24.4Q-7.1 26.2 -8.9 26.2H-28.4Q-30.5 26.2 -30.3 24.2L-27.5 -4.8Q-27.3 -6.6 -25.6 -6.6Z"/><circle cx="-13.8" cy="0.1" r="1.15" fill="#00897a"/></g><line x1="269.3" y1="618.1" x2="354.5" y2="618.1" stroke="#b5b7b7" stroke-width="1"/><clipPath id="cd"><ellipse cx="412.3" cy="576.8" rx="38.7" ry="40.3"/></clipPath><ellipse cx="412.3" cy="576.8" rx="38.7" ry="40.3" fill="#ad234f"/><g clip-path="url(#cd)"><polygon transform="translate(412.3 576.8) scale(0.8677 0.8520)" points="-29.8,-20.2 3.0,-20.2 8.0,-24.0 27.6,6.9 -92.4,126.9 -149.8,99.8" fill="#8c1c40"/></g><g transform="translate(412.3 576.8) scale(0.8677 0.8520) rotate(180)" fill="#fff"><path d="M-3.2 20.4V-8.6C-1.5 -10.6 1.2 -13.6 2.6 -16.6C4.4 -20.4 5.2 -24.5 5.4 -28.5C5.5 -30.5 5.2 -32.6 6.2 -34C7.4 -35.8 10.2 -36 11.8 -34.6C13.8 -32.8 14.4 -29.6 14.6 -26.8C14.9 -22 14.8 -17.4 14.9 -12.7H33.0C35.6 -12.7 37.0 -11.0 36.8 -9.2C36.6 -7.4 35.4 -6.4 34.4 -5.8C35.6 -5.6 36.2 -4.4 36.0 -2.6C35.8 -0.8 34.8 0.6 33.8 1.1C35.0 1.3 35.8 2.6 35.6 4.4C35.4 6.2 33.8 7.6 32.4 8.1C33.4 8.4 34.0 9.6 33.7 11.0C33.4 12.6 32.0 13.8 30.8 14.2C31.6 14.8 31.9 16.2 31.5 17.6C31.0 19.4 29.6 20.4 28.0 20.4Z"/><path d="M-25.6 -6.6H-9.2Q-7.4 -6.6 -7.4 -4.8L-7.1 24.4Q-7.1 26.2 -8.9 26.2H-28.4Q-30.5 26.2 -30.3 24.2L-27.5 -4.8Q-27.3 -6.6 -25.6 -6.6Z"/><circle cx="-13.8" cy="0.1" r="1.15" fill="#ad234f"/></g><line x1="376.6" y1="617.5" x2="450.0" y2="617.5" stroke="#b5b7b7" stroke-width="1"/><g transform="translate(209.9 725.2) scale(1 1.0353)"><circle r="25.90" fill="none" stroke="#a9d6ce" stroke-width="16.20"/><path d="M-24.87 -7.23A25.90 25.90 0 0 1 24.87 -7.23" fill="none" stroke="#00897a" stroke-width="16.20"/></g><line x1="179.9" y1="761.2" x2="244.9" y2="761.2" stroke="#b5b7b7" stroke-width="1"/><g transform="translate(313.6 725.2) scale(1 1.0353)"><circle r="25.90" fill="none" stroke="#e6b3b6" stroke-width="16.20"/><path d="M-22.70 -12.48A25.90 25.90 0 0 1 22.70 -12.48" fill="none" stroke="#ad234f" stroke-width="16.20"/></g><line x1="283.6" y1="761.2" x2="348.6" y2="761.2" stroke="#b5b7b7" stroke-width="1"/><g transform="translate(416.5 725.2) scale(1 1.0353)"><circle r="25.90" fill="none" stroke="#c1c9c9" stroke-width="16.20"/><path d="M-18.31 -18.31A25.90 25.90 0 0 1 18.31 -18.31" fill="none" stroke="#4e5c63" stroke-width="16.20"/></g><line x1="386.5" y1="761.2" x2="451.5" y2="761.2" stroke="#b5b7b7" stroke-width="1"/><line x1="34.0" y1="882.0" x2="34.0" y2="897.0" stroke="#8a8d8d" stroke-width="0.8"/><circle cx="34.0" cy="882.0" r="1.2" fill="#f3d6de"/><line x1="190.6" y1="882.0" x2="190.6" y2="897.0" stroke="#8a8d8d" stroke-width="0.8"/><circle cx="190.6" cy="882.0" r="1.2" fill="#333"/><line x1="34.2" y1="1021.8" x2="34.2" y2="1036.8" stroke="#8a8d8d" stroke-width="0.8"/><circle cx="34.2" cy="1021.8" r="1.2" fill="#f3d6de"/><line x1="195.3" y1="1021.8" x2="195.3" y2="1036.8" stroke="#8a8d8d" stroke-width="0.8"/><circle cx="195.3" cy="1021.8" r="1.2" fill="#333"/><line x1="34.0" y1="1105.8" x2="34.0" y2="1120.8" stroke="#8a8d8d" stroke-width="0.8"/><circle cx="34.0" cy="1105.8" r="1.2" fill="#f3d6de"/><line x1="196.3" y1="1105.8" x2="196.3" y2="1120.8" stroke="#8a8d8d" stroke-width="0.8"/><circle cx="196.3" cy="1105.8" r="1.2" fill="#333"/><line x1="267.2" y1="882.0" x2="267.2" y2="897.0" stroke="#8a8d8d" stroke-width="0.8"/><circle cx="267.2" cy="882.0" r="1.2" fill="#cfeae6"/><line x1="425.2" y1="882.0" x2="425.2" y2="897.0" stroke="#8a8d8d" stroke-width="0.8"/><circle cx="425.2" cy="882.0" r="1.2" fill="#f3d6de"/><line x1="267.2" y1="966.0" x2="267.2" y2="981.0" stroke="#8a8d8d" stroke-width="0.8"/><circle cx="267.2" cy="966.0" r="1.2" fill="#cfeae6"/><line x1="425.2" y1="966.0" x2="425.2" y2="981.0" stroke="#8a8d8d" stroke-width="0.8"/><circle cx="425.2" cy="966.0" r="1.2" fill="#f3d6de"/><line x1="267.2" y1="1049.5" x2="267.2" y2="1064.5" stroke="#8a8d8d" stroke-width="0.8"/><circle cx="267.2" cy="1049.5" r="1.2" fill="#cfeae6"/><line x1="425.2" y1="1049.5" x2="425.2" y2="1064.5" stroke="#8a8d8d" stroke-width="0.8"/><circle cx="425.2" cy="1049.5" r="1.2" fill="#f3d6de"/><line x1="470.5" y1="481.6" x2="643" y2="481.6" stroke="#8a8d8d" stroke-width="1"/><line x1="470.5" y1="593.5" x2="643" y2="593.5" stroke="#8a8d8d" stroke-width="1"/><line x1="470.5" y1="705.4" x2="643" y2="705.4" stroke="#8a8d8d" stroke-width="1"/><line x1="470.5" y1="817.3" x2="643" y2="817.3" stroke="#8a8d8d" stroke-width="1"/><line x1="470.5" y1="929.2" x2="643" y2="929.2" stroke="#8a8d8d" stroke-width="1"/><line x1="470.5" y1="1041.1" x2="643" y2="1041.1" stroke="#8a8d8d" stroke-width="1"/></svg>
</body></html>
